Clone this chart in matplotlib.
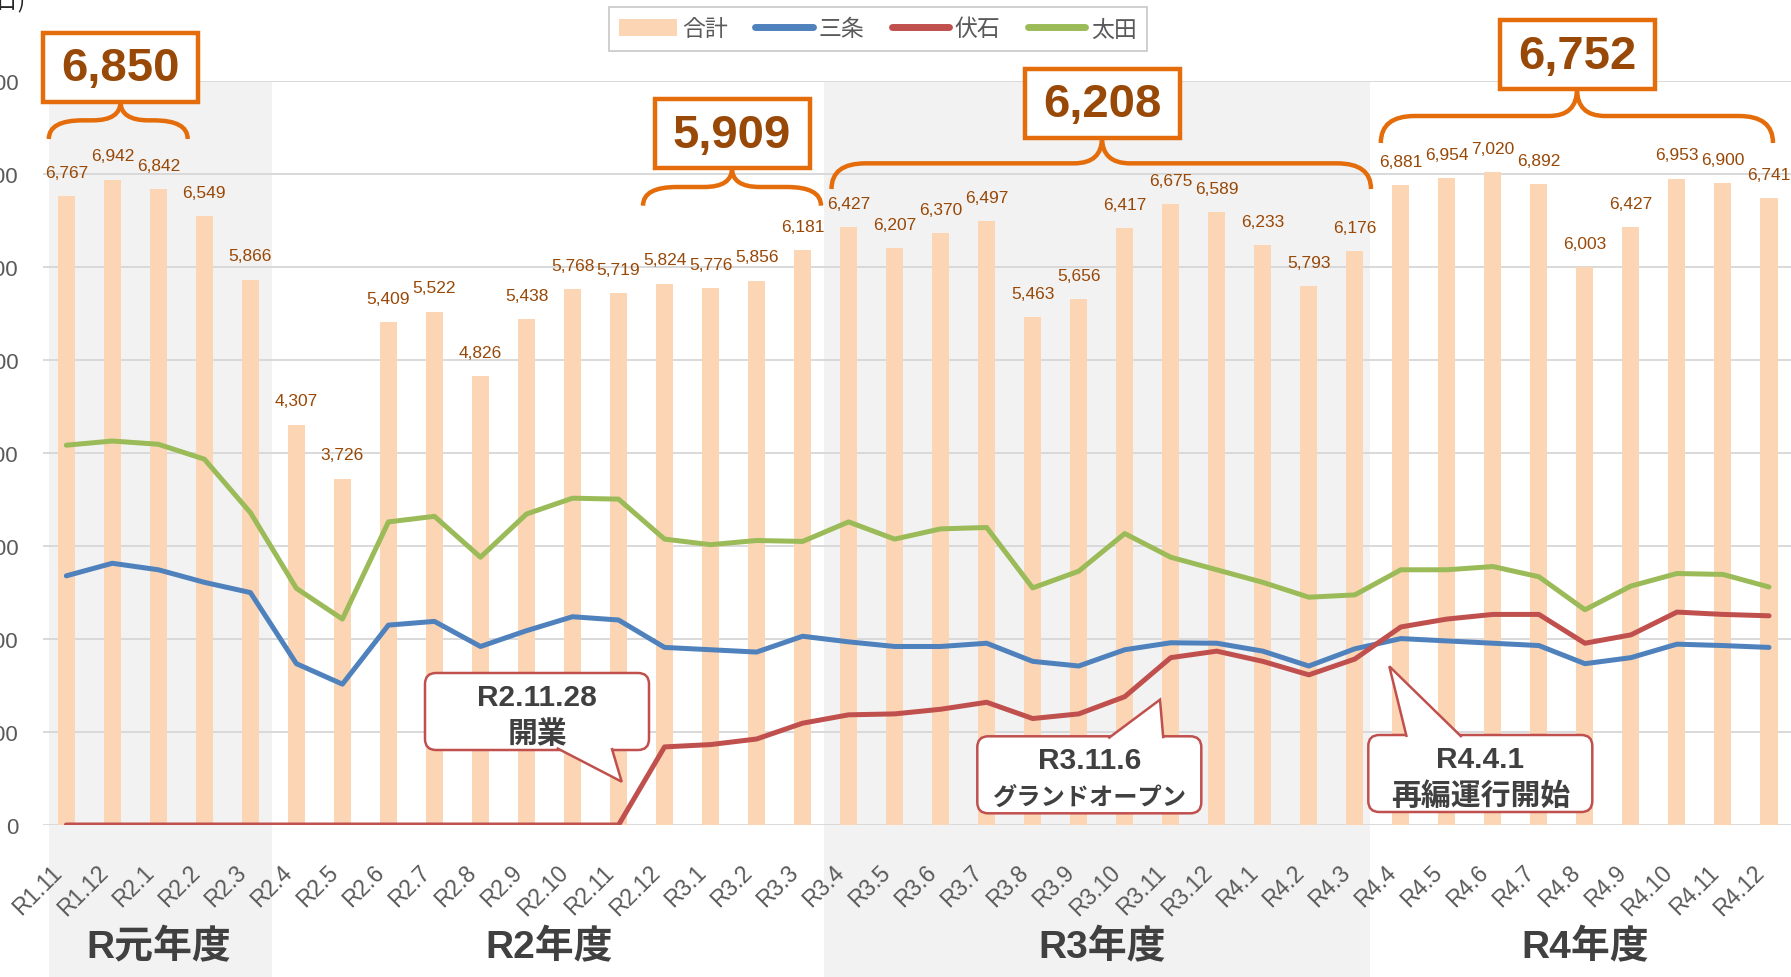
import matplotlib
matplotlib.use('Agg')
import matplotlib.pyplot as plt
import matplotlib.transforms as mtransforms
import numpy as np
from matplotlib import font_manager
from matplotlib.patches import Rectangle, FancyBboxPatch, Polygon, PathPatch, Patch
from matplotlib.path import Path
from matplotlib.lines import Line2D

# ---- data ----
months = ['R1.11', 'R1.12',
          'R2.1', 'R2.2', 'R2.3', 'R2.4', 'R2.5', 'R2.6', 'R2.7', 'R2.8', 'R2.9', 'R2.10', 'R2.11', 'R2.12',
          'R3.1', 'R3.2', 'R3.3', 'R3.4', 'R3.5', 'R3.6', 'R3.7', 'R3.8', 'R3.9', 'R3.10', 'R3.11', 'R3.12',
          'R4.1', 'R4.2', 'R4.3', 'R4.4', 'R4.5', 'R4.6', 'R4.7', 'R4.8', 'R4.9', 'R4.10', 'R4.11', 'R4.12']
total = [6767, 6942, 6842, 6549, 5866, 4307, 3726, 5409, 5522, 4826, 5438, 5768, 5719, 5824,
         5776, 5856, 6181, 6427, 6207, 6370, 6497, 5463, 5656, 6417, 6675, 6589,
         6233, 5793, 6176, 6881, 6954, 7020, 6892, 6003, 6427, 6953, 6900, 6741]
sanjo = [2680, 2815, 2745, 2610, 2500, 1735, 1515, 2150, 2190, 1920, 2090, 2240, 2205, 1910,
         1885, 1860, 2030, 1970, 1920, 1920, 1955, 1760, 1710, 1885, 1960, 1955,
         1870, 1710, 1895, 2005, 1980, 1955, 1930, 1735, 1800, 1945, 1930, 1910]
fuseishi = [0, 0, 0, 0, 0, 0, 0, 0, 0, 0, 0, 0, 0, 840,
            865, 925, 1095, 1185, 1195, 1245, 1320, 1145, 1195, 1380, 1800, 1870,
            1760, 1615, 1785, 2130, 2215, 2265, 2265, 1955, 2045, 2290, 2265, 2250]
ota = [4085, 4130, 4095, 3935, 3360, 2545, 2215, 3260, 3320, 2880, 3345, 3515, 3505, 3075,
       3015, 3060, 3050, 3260, 3075, 3185, 3200, 2550, 2730, 3135, 2880, 2745,
       2610, 2450, 2475, 2745, 2745, 2780, 2670, 2315, 2570, 2705, 2695, 2560]
fiscal_years = ['R元年度', 'R2年度', 'R3年度', 'R4年度']
fy_months = [5, 12, 12, 9]
avg_ranges = [(0, 2), (13, 16), (17, 28), (29, 37)]
events = [('R2.11.28', '開業'), ('R3.11.6', 'グランドオープン'), ('R4.4.1', '再編運行開始')]
unit_label = '(人/日)'

# ---- fonts ----
JP = 'Noto Sans CJK JP'
installed = {f.name for f in font_manager.fontManager.ttflist}
LAT = 'Liberation Sans' if 'Liberation Sans' in installed else 'DejaVu Sans'
plt.rcParams['font.family'] = [LAT, JP, 'DejaVu Sans']

W, H = 1791, 978
fig = plt.figure(figsize=(W / 100, H / 100), dpi=100)
ax_l, ax_r, ax_t, ax_b = 43.3, 1792.0, 82.2, 826.0
ax = fig.add_axes([ax_l / W, 1 - ax_b / H, (ax_r - ax_l) / W, (ax_b - ax_t) / H])

x = np.arange(len(months))
ax.set_xlim(-0.5, len(months) - 0.5)
ax.set_ylim(0, 8000)

# fiscal year shading (extends down behind the labels)
blend = mtransforms.blended_transform_factory(ax.transData, ax.transAxes)
for x0, x1 in [(-0.37, 4.47), (16.47, 28.34)]:
    ax.add_patch(Rectangle((x0, -0.25), x1 - x0, 1.25, transform=blend, facecolor='#F2F2F2',
                           lw=0, zorder=0, clip_on=False))

ax.set_axisbelow(True)
ax.yaxis.grid(True, color='#D9D9D9', lw=1.4)
for s in ax.spines.values():
    s.set_visible(False)

ax.bar(x, total, width=0.37, color='#FCD5B4', zorder=1)
ax.plot(x, sanjo, color='#4F81BD', lw=3.6, zorder=3, solid_capstyle='round')
ax.plot(x, fuseishi, color='#C0504D', lw=3.6, zorder=3, solid_capstyle='round')
ax.plot(x, ota, color='#9BBB59', lw=3.6, zorder=3, solid_capstyle='round')

for i, v in enumerate(total):
    ax.annotate(f'{v:,}', (i, v), xytext=(0, 17), textcoords='offset points',
                ha='center', va='center', fontsize=12.5, color='#984807', zorder=4)

ax.set_yticks(range(0, 8001, 1000))
ax.set_yticklabels([f'{v:,}' for v in range(0, 8001, 1000)])
ax.tick_params(axis='y', length=0, pad=18, labelsize=16, labelcolor='#595959')
ax.set_xticks(x)
ax.set_xticklabels(months, rotation=45, ha='right', va='center', rotation_mode='anchor')
ax.tick_params(axis='x', length=0, pad=31, labelsize=16.5, labelcolor='#595959')
shift = mtransforms.ScaledTranslation(-8 / 100, 0, fig.dpi_scale_trans)
for lab in ax.get_xticklabels():
    lab.set_transform(lab.get_transform() + shift)

# fiscal year names
start = 0
for name, n in zip(fiscal_years, fy_months):
    ax.text(start + (n - 1) / 2, -0.164, name, transform=blend, ha='center', va='center',
            fontsize=28, fontweight='bold', color='#404040')
    start += n

fig.text(25 / W, 1 - 7 / H, unit_label, ha='right', va='baseline', fontsize=16,
         color='#262626', family=[JP])

handles = [Patch(facecolor='#FCD5B4'),
           Line2D([], [], color='#4F81BD', lw=5, solid_capstyle='round'),
           Line2D([], [], color='#C0504D', lw=5, solid_capstyle='round'),
           Line2D([], [], color='#9BBB59', lw=5, solid_capstyle='round')]
leg = fig.legend(handles, ['合計', '三条', '伏石', '太田'], loc='center',
                 bbox_to_anchor=(878 / W, 1 - 30 / H), ncol=4, prop={'family': JP, 'size': 16.5},
                 labelcolor='#595959', frameon=True, fancybox=False, edgecolor='#BFBFBF',
                 handlelength=2.5, handletextpad=0.25, columnspacing=1.2, borderpad=0.45)
leg.get_frame().set_linewidth(1.3)

# ---- overlay in pixel coordinates for boxes, braces and callouts ----
ov = fig.add_axes([0, 0, 1, 1], zorder=10)
ov.set_xlim(0, W)
ov.set_ylim(H, 0)
ov.axis('off')

ORANGE = '#E46C0A'
# (brace left, brace right, centre, box top, brace bottom)
groups = [(48.8, 187.7, 120.5, 31.7, 140.0),
          (643.0, 821.0, 732.0, 98.3, 206.7),
          (831.5, 1371.0, 1102.0, 67.7, 190.0),
          (1380.8, 1773.0, 1577.0, 19.0, 144.0)]
box_w, box_h = 155, 69
for (a, b), (xl, xr, xm, top, yb) in zip(avg_ranges, groups):
    avg = int(np.mean(total[a:b + 1]))
    ov.add_patch(Rectangle((xm - box_w / 2, top + 2), box_w, box_h, facecolor='white',
                           edgecolor=ORANGE, lw=3.2, joinstyle='miter'))
    ov.text(xm, top + 2 + box_h / 2 + 1, f'{avg:,}', ha='center', va='center', fontsize=34,
            fontweight='bold', color='#984807')
    yt = top + 2 + box_h
    yh = (yt + yb) / 2
    re, rm = 34, 28
    verts = [(xl, yb), (xl, yh), (xl + re, yh), (xm - rm, yh), (xm, yh), (xm, yt),
             (xm, yh), (xm + rm, yh), (xr - re, yh), (xr, yh), (xr, yb)]
    codes = [Path.MOVETO, Path.CURVE3, Path.CURVE3, Path.LINETO, Path.CURVE3, Path.CURVE3,
             Path.CURVE3, Path.CURVE3, Path.LINETO, Path.CURVE3, Path.CURVE3]
    ov.add_patch(PathPatch(Path(verts, codes), facecolor='none', edgecolor=ORANGE, lw=3.2,
                           capstyle='butt'))

RED = '#C0504D'
# (box left, box top, tail base left, tail base right, tip x, tip y, tail on bottom?)
callouts = [(425.0, 674.0, 556.7, 611.7, 621.7, 782.7, True),
            (977.3, 737.3, 1108.3, 1163.3, 1160.0, 700.7, False),
            (1368.3, 736.0, 1406.7, 1461.7, 1389.3, 667.3, False)]
cw, ch = 224, 77
for (l1, l2), (bx, by, t0, t1, tx, ty, bottom) in zip(events, callouts):
    ov.add_patch(FancyBboxPatch((bx, by), cw, ch, boxstyle='round,pad=0,rounding_size=11',
                                facecolor='white', edgecolor=RED, lw=1.8))
    edge = by + ch - 2 if bottom else by + 2
    ov.add_patch(Polygon([(t0, edge), (tx, ty), (t1, edge)], closed=False, facecolor='white',
                         edgecolor=RED, lw=1.8, joinstyle='miter'))
    ov.text(bx + cw / 2, by + 24, l1, ha='center', va='center', fontsize=21.5, color='#404040',
            fontweight='bold')
    fs = 21.5 if len(l2) <= 6 else 17.5
    ov.text(bx + cw / 2, by + 60, l2, ha='center', va='center', fontsize=fs, color='#404040',
            fontweight='bold', family=[JP])

fig.savefig('out.png', dpi=100)
